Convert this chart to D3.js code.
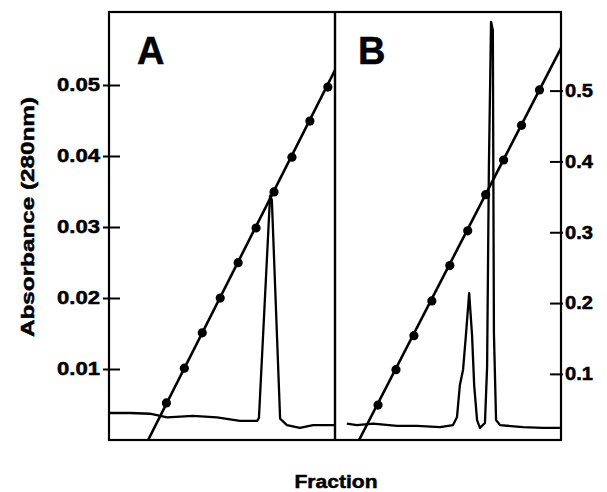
<!DOCTYPE html>
<html>
<head>
<meta charset="utf-8">
<script src="https://cdn.jsdelivr.net/npm/d3@7"></script>
<style>
  body { margin: 0; background: #fff; }
  text { font-family: "Liberation Sans", Arial, sans-serif; font-weight: bold; fill: #000; stroke: #000; stroke-width: 0.5px; }
</style>
</head>
<body>
<div id="chart"></div>
<script>
// absorbance ticks (left) and gradient ticks (right)
const leftTicks = [0.01, 0.02, 0.03, 0.04, 0.05]
const rightTicks = [0.1, 0.2, 0.3, 0.4, 0.5]
const panelNames = ["A", "B"]

// panel A: absorbance trace
const traceFracA = [0, 5.9, 11.4, 16.2, 23.4, 30.1, 36.5, 41.3, 41.8, 44.9, 45.4, 47.7, 49.6, 53.2, 56.9, 63]
const traceAbsA = [0.0038, 0.0038, 0.0037, 0.0032, 0.0034, 0.0032, 0.0027, 0.0027, 0.0031, 0.0344, 0.0338, 0.0030, 0.0021, 0.0017, 0.0021, 0.0021]

// panel B: absorbance trace
const traceFracB = [3.3, 6.1, 10.6, 17.3, 22.9, 29.3, 32.9, 34.0, 34.8, 35.7, 36.5, 37.4, 38.2, 38.8, 39.6, 40.4, 41.8, 42.4, 42.9, 43.5, 44.0, 44.3, 44.9, 46.0, 52.4, 58.0, 62.7]
const traceAbsB = [0.0023, 0.0021, 0.0023, 0.0020, 0.0020, 0.0018, 0.0021, 0.0032, 0.0077, 0.0099, 0.0148, 0.0207, 0.0148, 0.0077, 0.0028, 0.0017, 0.0024, 0.0103, 0.0385, 0.0589, 0.0577, 0.0151, 0.0028, 0.0021, 0.0018, 0.0017, 0.0017]

// gradient dots
const dotFracA = [16, 21, 26, 31, 36, 41, 46, 51, 56, 61]
const dotValA = [0.059, 0.108, 0.158, 0.207, 0.257, 0.306, 0.357, 0.406, 0.457, 0.505]
const dotFracB = [12, 17, 22, 27, 32, 37, 42, 47, 52, 57]
const dotValB = [0.056, 0.106, 0.154, 0.203, 0.253, 0.302, 0.353, 0.402, 0.451, 0.501]

// gradient line ends (where it leaves the panel)
const lineEndsFracA = [10.9, 63]
const lineEndsValA = [0.0066, 0.529]
const lineEndsFracB = [6.7, 63]
const lineEndsValB = [0.0066, 0.56]

const W = 607, H = 492
const frame = { left: 109, right: 561, top: 12, bottom: 440, mid: 335 }

function initializeChart(containerName) {
    let context = Object()
    context.svg = d3.select("#" + containerName)
        .append("svg")
        .attr("width", W)
        .attr("height", H)
    return context
}

function initializeAxis(context) {
    context.yLeft = d3.scaleLinear()
        .domain([0, (frame.bottom - frame.top) / 7100])
        .range([frame.bottom, frame.top])
    context.yRight = d3.scaleLinear()
        .domain([0, 0.611])
        .range([444.7, frame.top])

    let left = context.svg.append("g")
        .attr("transform", "translate(" + frame.left + ",0)")
        .call(d3.axisLeft(context.yLeft).tickValues(leftTicks).tickSize(6).tickPadding(4)
            .tickFormat(d3.format(".2f")))
    left.select(".domain").remove()
    left.selectAll("line").attr("x1", 11).attr("x2", -6).attr("stroke", "#000").attr("stroke-width", 2)
    left.selectAll("text")
        .attr("x", -9)
        .style("font-size", "18px")
        .attr("textLength", 43).attr("lengthAdjust", "spacingAndGlyphs")

    let right = context.svg.append("g")
        .attr("transform", "translate(" + frame.right + ",0)")
        .call(d3.axisRight(context.yRight).tickValues(rightTicks).tickSize(2).tickPadding(2)
            .tickFormat(d3.format(".1f")))
    right.select(".domain").remove()
    right.selectAll("line").attr("x1", -11).attr("x2", 2).attr("stroke", "#000").attr("stroke-width", 2)
    right.selectAll("text")
        .attr("x", 4)
        .style("font-size", "18px")
        .attr("textLength", 28).attr("lengthAdjust", "spacingAndGlyphs")

    // frame and panel divider
    context.svg.append("rect")
        .attr("x", frame.left).attr("y", frame.top)
        .attr("width", frame.right - frame.left).attr("height", frame.bottom - frame.top)
        .attr("fill", "none").attr("stroke", "#000").attr("stroke-width", 2.2)
    context.svg.append("line")
        .attr("x1", frame.mid).attr("x2", frame.mid)
        .attr("y1", frame.top).attr("y2", frame.bottom)
        .attr("stroke", "#000").attr("stroke-width", 2.4)

    context.svg.append("text")
        .attr("transform", "translate(34,217) rotate(-90)")
        .attr("text-anchor", "middle")
        .style("font-size", "19px")
        .attr("textLength", 240).attr("lengthAdjust", "spacingAndGlyphs")
        .text("Absorbance (280nm)")

    context.svg.append("text")
        .attr("x", 336).attr("y", 488)
        .attr("text-anchor", "middle")
        .style("font-size", "19px")
        .attr("textLength", 83).attr("lengthAdjust", "spacingAndGlyphs")
        .text("Fraction")
}

function drawPanel(context, idx, x0, x1, trace, dots, ends, labelX) {
    let x = d3.scaleLinear().domain([0, 63]).range([x0, x1])
    let clipId = "clip" + idx
    context.svg.append("clipPath").attr("id", clipId)
        .append("rect").attr("x", x0).attr("y", frame.top)
        .attr("width", x1 - x0).attr("height", frame.bottom - frame.top)

    let g = context.svg.append("g").attr("clip-path", "url(#" + clipId + ")")

    // absorbance trace
    g.append("path")
        .datum(d3.zip(trace[0], trace[1]))
        .attr("fill", "none")
        .attr("stroke", "#000")
        .attr("stroke-width", 2.3)
        .attr("stroke-linejoin", "round")
        .attr("d", d3.line()
            .x(function (d) { return x(d[0]) })
            .y(function (d) { return context.yLeft(d[1]) }))

    // gradient line
    g.append("path")
        .datum(d3.zip(ends[0], ends[1]))
        .attr("fill", "none")
        .attr("stroke", "#000")
        .attr("stroke-width", 2.6)
        .attr("d", d3.line()
            .x(function (d) { return x(d[0]) })
            .y(function (d) { return context.yRight(d[1]) }))

    g.selectAll("circle.dot")
        .data(d3.zip(dots[0], dots[1]))
        .enter()
        .append("circle")
        .attr("class", "dot")
        .attr("cx", function (d) { return x(d[0]) })
        .attr("cy", function (d) { return context.yRight(d[1]) })
        .attr("r", 4.6)
        .attr("fill", "#000")

    context.svg.append("text")
        .attr("x", labelX).attr("y", 64)
        .style("font-size", "38px")
        .text(panelNames[idx])
}

let context = initializeChart("chart")
initializeAxis(context)
drawPanel(context, 0, frame.left, frame.mid, [traceFracA, traceAbsA], [dotFracA, dotValA], [lineEndsFracA, lineEndsValA], 137)
drawPanel(context, 1, frame.mid, frame.right, [traceFracB, traceAbsB], [dotFracB, dotValB], [lineEndsFracB, lineEndsValB], 358)
</script>
</body>
</html>
